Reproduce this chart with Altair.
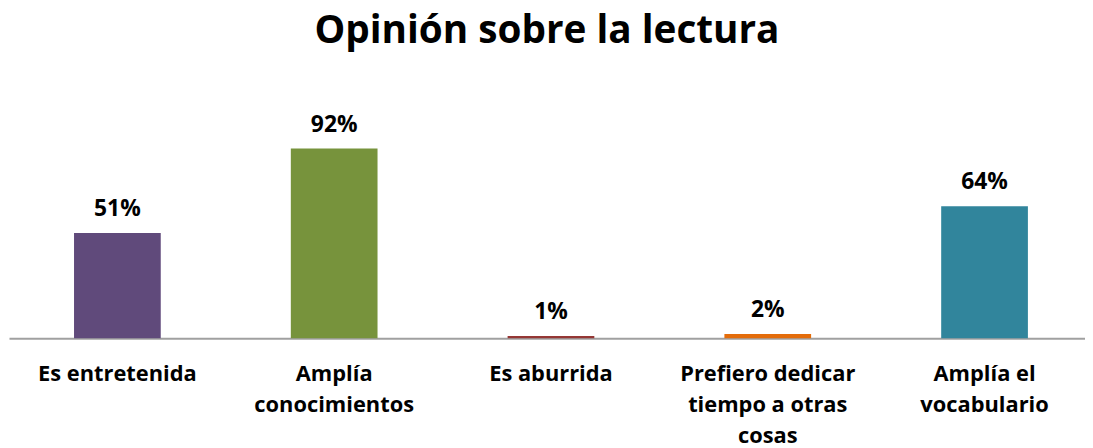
import altair as alt
import pandas as pd

categories = [
    "Es entretenida",
    "Amplía\nconocimientos",
    "Es aburrida",
    "Prefiero dedicar\ntiempo a otras\ncosas",
    "Amplía el\nvocabulario",
]
values = [51, 92, 1, 2, 64]
labels = ["51%", "92%", "1%", "2%", "64%"]
colors = ["#604A7B", "#77933C", "#953735", "#E46C0A", "#31859C"]

df = pd.DataFrame({"cat": categories, "val": values, "lab": labels, "col": colors})

FONT = "Open Sans"

x = alt.X(
    "cat:N",
    sort=categories,
    scale=alt.Scale(range=[0, 1092], paddingInner=0.6, paddingOuter=0.3),
    axis=alt.Axis(
        title=None,
        labelAngle=0,
        ticks=False,
        labelPadding=26,
        labelBaseline="top",
        labelLineHeight=31,
        labelFont=FONT,
        labelFontSize=22,
        labelFontWeight="bold",
        labelColor="black",
        labelExpr="split(datum.label, '\\n')",
        domainColor="#A0A0A0",
        domainWidth=2,
        labelLimit=0,
    ),
)
y = alt.Y("val:Q", scale=alt.Scale(domain=[0, 100]), axis=None)

bars = alt.Chart(df).mark_bar().encode(
    x=x, y=y, color=alt.Color("col:N", scale=None)
)
text = alt.Chart(df).mark_text(
    baseline="alphabetic", dy=-17, font=FONT, fontSize=23, fontWeight="bold", color="black"
).encode(x=x, y=y, text="lab:N")

chart = (
    alt.layer(bars, text)
    .properties(
        width=1084,
        height=207.6,
        autosize=alt.AutoSizeParams(type="none"),
        padding={"left": 1, "right": 0, "top": 123.4, "bottom": 108},
        title=alt.TitleParams(
            "Opinión sobre la lectura",
            font=FONT,
            fontSize=39,
            fontWeight="bold",
            color="black",
            anchor="middle",
            frame="group",
            offset=63,
        ),
    )
    .configure_view(stroke=None)
)

chart.save("out.html", embed_options={"renderer": "svg", "actions": False})
